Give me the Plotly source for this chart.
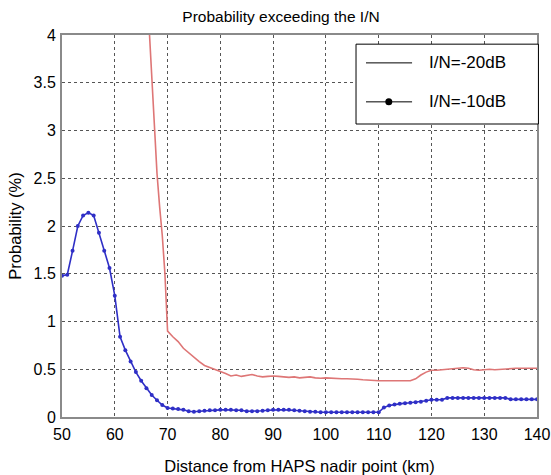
import plotly.graph_objects as go

# Blue series: I/N = -10 dB (lines + markers), x = 50..140 km step 1
blue_x = list(range(50, 141))
blue_y = [1.48, 1.49, 1.74, 2.00, 2.11, 2.14, 2.11, 1.93, 1.74, 1.56,
          1.27, 0.84, 0.70, 0.58, 0.47, 0.38, 0.30, 0.23, 0.175, 0.125,
          0.095, 0.09, 0.085, 0.075, 0.06, 0.055, 0.06, 0.065, 0.07, 0.07,
          0.075, 0.075, 0.075, 0.07, 0.07, 0.06, 0.06, 0.06, 0.065, 0.07,
          0.075, 0.075, 0.075, 0.075, 0.07, 0.065, 0.06, 0.055, 0.055, 0.05,
          0.05, 0.05, 0.05, 0.05, 0.05, 0.05, 0.05, 0.05, 0.05, 0.05,
          0.05, 0.10, 0.12, 0.13, 0.14, 0.145, 0.15, 0.155, 0.16, 0.17,
          0.18, 0.18, 0.18, 0.20, 0.20, 0.20, 0.20, 0.20, 0.20, 0.20,
          0.20, 0.20, 0.20, 0.20, 0.20, 0.185, 0.185, 0.185, 0.185, 0.185,
          0.185]

# Red series: I/N = -20 dB (line)
red_x = [66, 67, 67.5, 68, 68.5, 69, 69.5, 70] + list(range(71, 141))
red_y = [4.6, 3.55, 3.1, 2.55, 2.2, 1.9, 1.5, 0.9,
         0.84, 0.79, 0.72, 0.67, 0.62, 0.58, 0.54, 0.52, 0.50, 0.475,
         0.455, 0.43, 0.44, 0.425, 0.435, 0.445, 0.43, 0.42, 0.425, 0.43,
         0.425, 0.42, 0.415, 0.42, 0.41, 0.415, 0.42, 0.41, 0.405, 0.41,
         0.405, 0.40, 0.40, 0.40, 0.40, 0.395, 0.39, 0.385, 0.38, 0.38,
         0.38, 0.38, 0.38, 0.38, 0.38, 0.38, 0.40, 0.44, 0.47, 0.49,
         0.49, 0.495, 0.50, 0.50, 0.505, 0.515, 0.51, 0.495, 0.49, 0.495,
         0.50, 0.495, 0.50, 0.50, 0.51, 0.51, 0.51, 0.51, 0.51, 0.51]

x_ticks = [50, 60, 70, 80, 90, 100, 110, 120, 130, 140]
y_ticks = [0, 0.5, 1, 1.5, 2, 2.5, 3, 3.5, 4]
y_tick_text = ["0", "0.5", "1", "1.5", "2", "2.5", "3", "3.5", "4"]
legend_names = ["I/N=-20dB", "I/N=-10dB"]

FONT = "Liberation Sans, Arial, sans-serif"
RED = "#de7676"
BLUE = "#2f2fc6"

fig = go.Figure()
fig.add_trace(go.Scatter(x=red_x, y=red_y, mode="lines", name=legend_names[0],
                         line=dict(color=RED, width=1.6),
                         showlegend=False, hoverinfo="skip"))
fig.add_trace(go.Scatter(x=blue_x, y=blue_y, mode="lines+markers",
                         name=legend_names[1],
                         line=dict(color=BLUE, width=1.6),
                         marker=dict(color=BLUE, size=4),
                         showlegend=False, hoverinfo="skip"))

axis_common = dict(showgrid=True, gridcolor="#555555", griddash="dot",
                   gridwidth=1, showline=True, linecolor="#8a8a8a",
                   linewidth=2, mirror=True, zeroline=False,
                   ticks="outside", tickcolor="rgba(0,0,0,0)",
                   automargin=False,
                   tickfont=dict(family=FONT, size=16, color="black"))

# Legend box drawn in the upper right corner (black symbols, as in the reference)
lg_x0, lg_x1, lg_y0, lg_y1 = 0.619, 1.003, 0.767, 0.976
row_y = [0.927, 0.825]
sym_x0, sym_x1, sym_xc, txt_x = 0.640, 0.737, 0.688, 0.769

shapes = [dict(type="rect", xref="paper", yref="paper", x0=lg_x0, x1=lg_x1,
               y0=lg_y0, y1=lg_y1, line=dict(color="black", width=1),
               fillcolor="white", layer="above")]
annotations = []
for i, name in enumerate(legend_names):
    shapes.append(dict(type="line", xref="paper", yref="paper", x0=sym_x0,
                       x1=sym_x1, y0=row_y[i], y1=row_y[i],
                       line=dict(color="black", width=1), layer="above"))
    annotations.append(dict(text=name, xref="paper", yref="paper", x=txt_x,
                            y=row_y[i], xanchor="left", yanchor="middle",
                            showarrow=False,
                            font=dict(family=FONT, size=17, color="black")))
shapes.append(dict(type="circle", xref="paper", yref="paper",
                   xsizemode="pixel", ysizemode="pixel",
                   xanchor=sym_xc, yanchor=row_y[1],
                   x0=-3.5, x1=3.5, y0=-3.5, y1=3.5,
                   fillcolor="black", line=dict(color="black", width=0),
                   layer="above"))

fig.update_layout(
    width=551, height=475,
    margin=dict(l=62, r=14, t=35, b=58),
    paper_bgcolor="white", plot_bgcolor="white",
    title=dict(text="Probability exceeding the I/N", x=0.510, xanchor="center",
               y=0.966, yanchor="middle",
               font=dict(family=FONT, size=15.5, color="black")),
    xaxis=dict(range=[50, 140], tickvals=x_ticks, ticklen=2,
               title=dict(text="Distance from HAPS nadir point (km)",
                          font=dict(family=FONT, size=16.5, color="black"),
                          standoff=20),
               **axis_common),
    yaxis=dict(range=[0, 4], tickvals=y_ticks, ticktext=y_tick_text, ticklen=1,
               title=dict(text="Probability (%)",
                          font=dict(family=FONT, size=16.5, color="black"),
                          standoff=8),
               **axis_common),
    shapes=shapes,
    annotations=annotations,
    showlegend=False,
)

# remove the browser's default page margin so the figure fills the window
fig.write_html("out.html",
               config={"displayModeBar": False, "staticPlot": True},
               post_script="document.body.style.margin='0px';"
                           "document.body.style.overflow='hidden';")
